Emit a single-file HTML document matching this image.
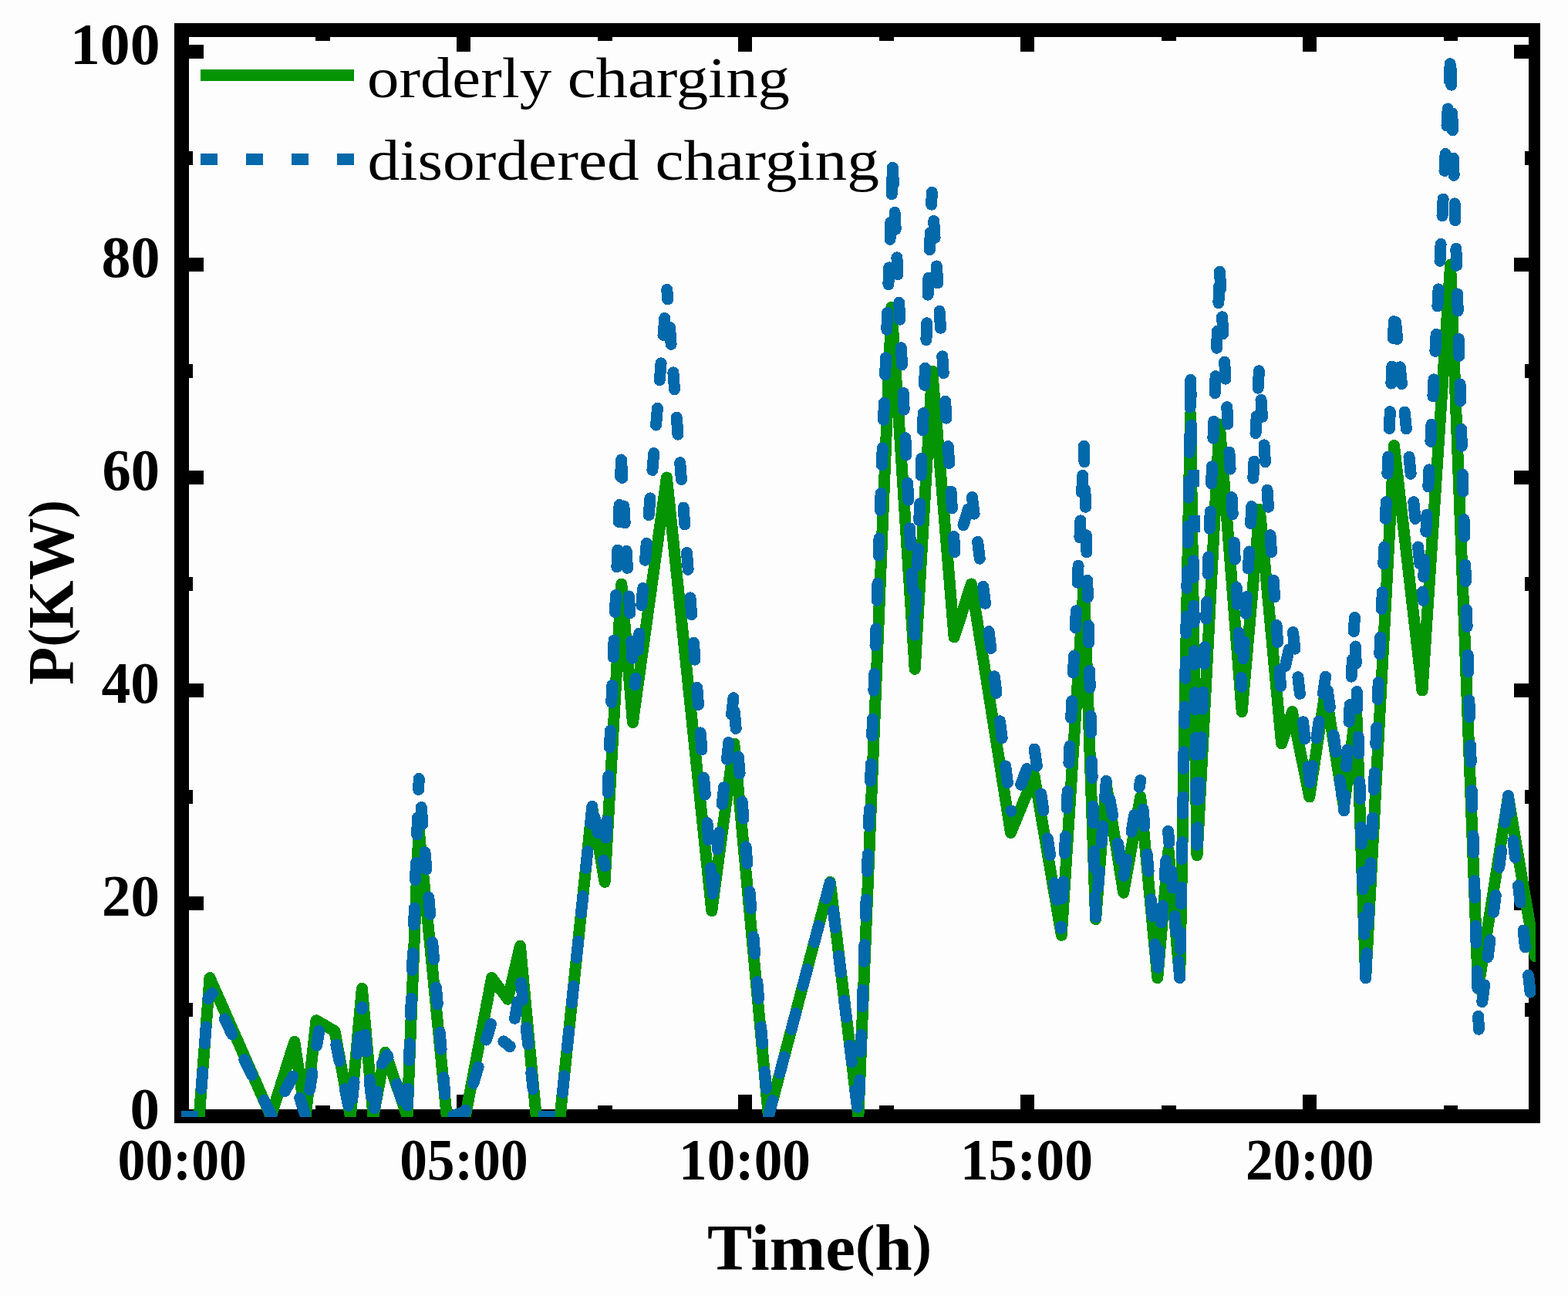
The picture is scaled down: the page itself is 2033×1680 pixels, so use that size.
<!DOCTYPE html>
<html lang="en"><head><meta charset="utf-8"><title>Charging load: orderly vs disordered</title>
<style>
html,body{margin:0;padding:0;background:#fff;}
body{width:2033px;height:1680px;overflow:hidden;}
svg{display:block;}
.tk{font-family:"Liberation Serif","DejaVu Serif",serif;font-weight:bold;font-size:76px;fill:#000;}
.tt{font-family:"Liberation Serif","DejaVu Serif",serif;font-weight:bold;font-size:85px;fill:#000;}
.lg{font-family:"Liberation Serif","DejaVu Serif",serif;font-weight:normal;font-size:74px;fill:#000;}
</style></head><body>
<svg xmlns="http://www.w3.org/2000/svg" width="2033" height="1680" viewBox="0 0 2033 1680">
<rect x="0" y="0" width="2033" height="1680" fill="#fdfdfd"/>
<g fill="#000" shape-rendering="crispEdges">
<rect x="226" y="30" width="1771" height="18"/>
<rect x="226" y="1438" width="1771" height="18"/>
<rect x="226" y="30" width="19" height="1426"/>
<rect x="1982" y="30" width="15" height="1426"/>
<rect x="245" y="1300" width="5" height="18"/>
<rect x="1977" y="1300" width="5" height="18"/>
<rect x="245" y="1162" width="19" height="18"/>
<rect x="1963" y="1162" width="19" height="18"/>
<rect x="245" y="1024" width="5" height="18"/>
<rect x="1977" y="1024" width="5" height="18"/>
<rect x="245" y="886" width="19" height="18"/>
<rect x="1963" y="886" width="19" height="18"/>
<rect x="245" y="748" width="5" height="18"/>
<rect x="1977" y="748" width="5" height="18"/>
<rect x="245" y="610" width="19" height="18"/>
<rect x="1963" y="610" width="19" height="18"/>
<rect x="245" y="472" width="5" height="18"/>
<rect x="1977" y="472" width="5" height="18"/>
<rect x="245" y="334" width="19" height="18"/>
<rect x="1963" y="334" width="19" height="18"/>
<rect x="245" y="196" width="5" height="18"/>
<rect x="1977" y="196" width="5" height="18"/>
<rect x="245" y="58" width="19" height="18"/>
<rect x="1963" y="58" width="19" height="18"/>
<rect x="409" y="48" width="19" height="5"/>
<rect x="409" y="1433" width="19" height="5"/>
<rect x="592" y="48" width="18" height="19"/>
<rect x="592" y="1419" width="18" height="19"/>
<rect x="775" y="48" width="19" height="5"/>
<rect x="775" y="1433" width="19" height="5"/>
<rect x="957" y="48" width="18" height="19"/>
<rect x="957" y="1419" width="18" height="19"/>
<rect x="1140" y="48" width="19" height="5"/>
<rect x="1140" y="1433" width="19" height="5"/>
<rect x="1323" y="48" width="18" height="19"/>
<rect x="1323" y="1419" width="18" height="19"/>
<rect x="1506" y="48" width="19" height="5"/>
<rect x="1506" y="1433" width="19" height="5"/>
<rect x="1689" y="48" width="18" height="19"/>
<rect x="1689" y="1419" width="18" height="19"/>
<rect x="1872" y="48" width="18" height="5"/>
<rect x="1872" y="1433" width="18" height="5"/>
</g>
<defs><clipPath id="pc"><rect x="235" y="39" width="1756" height="1409"/></clipPath></defs>
<g clip-path="url(#pc)" fill="none" stroke-linejoin="round" stroke-linecap="round" shape-rendering="crispEdges">
<polyline points="235.3,1447 258.3,1447 272,1267.6 351.3,1447 381.8,1350.4 396.2,1447 410,1322.8 434,1336.6 454.4,1447 469.4,1281.4 484,1447 499.4,1364.2 528,1447 543,1074.4 579.2,1447 603.4,1447 637.6,1267.6 658.5,1295.2 674.4,1226.2 695.2,1447 726.2,1447 767.7,1046.8 784.1,1143.4 805.8,757 820.4,936.4 864.4,619 922.8,1180.7 951.8,964 996.4,1447 1076.3,1143.4 1112.9,1447 1155.9,398.2 1186.2,867.4 1208.7,481 1237.1,826 1259.4,757 1310.5,1079.5 1341,1005.4 1376.3,1212.4 1405.4,757 1420.6,1191.7 1434.2,1016.4 1456.7,1157.2 1478.7,1033 1500.8,1267.6 1515,1102 1529.7,1267.6 1543.5,536.2 1552,1108.9 1581.2,550 1610.2,922.6 1633.3,660.4 1661.6,964 1675.4,922.6 1697.8,1033 1718.5,895 1742.5,1046.8 1758.5,915.7 1770.7,1267.6 1807.5,577.6 1844,895 1880.6,343 1916.5,1281.4 1955.5,1033 1990.5,1240" stroke="#049404" stroke-width="15"/>
<path d="M261 1411.4 L262.7 1389.5 M265.5 1353 L267.1 1331.1 M269.9 1294.7 L270 1293.4 M270.1 1293.6 L275.4 1287.7 M291.3 1320.9 L300.9 1340.7 M316.9 1373.6 L326.5 1393.4 M342.5 1426.3 L352.1 1446.1 M369.4 1414.7 L379.7 1395.2 M388.8 1423.2 L395.3 1444.2 M401.6 1412.9 L405 1391.2 M410.8 1355.1 L413.7 1336.6 M435.9 1354.3 L440.2 1375.8 M447.3 1411.7 L451.7 1433.2 M456.8 1424.4 L459.1 1402.5 M463 1366.1 L465.3 1344.3 M469.1 1307.9 L469.4 1305.5 M473.1 1341.3 L475.3 1363.1 M479.1 1399.5 L481.4 1421.4 M485.6 1436.7 L489 1415 M495.3 1378.8 L501.5 1368.6 M502.1 1367.7 L503 1370.5 M514.4 1405.2 L521.2 1426.1 M528.5 1433.1 L529.2 1411.1 M530.5 1374.6 L531.3 1352.6 M532.5 1316.1 L533.3 1294.1 M534.6 1257.6 L535.3 1235.6 M536.6 1199 L537.4 1177.1 M538.6 1140.5 L539.4 1118.5 M540.7 1082 L541.4 1060 M542.7 1023.5 L543.2 1009.5 M543.2 1009.5 L543.2 1010.1 M546.2 1046.5 L548 1068.4 M551 1104.9 L552.9 1126.8 M555.8 1163.2 L557.7 1185.1 M560.7 1221.6 L562.5 1243.5 M565.5 1279.9 L567.3 1301.8 M570.3 1338.3 L572.1 1360.2 M575.1 1396.6 L576.9 1418.6 M587.5 1446.3 L603.5 1441 M603 1441 L603.5 1439.2 M613.9 1404.2 L620.1 1383.1 M630.5 1348 L636.5 1327.6 M652.9 1349.9 L661.1 1356.6 M661.1 1356.6 L661.2 1356.2 M667.5 1320.2 L671.3 1298.5 M675.6 1274 L678.1 1295.7 M682.2 1332.1 L684.7 1353.9 M688.8 1390.2 L691.2 1412.1 M729.4 1416.6 L731.6 1394.7 M735.4 1358.4 L737.7 1336.5 M741.4 1300.2 L743.7 1278.3 M747.5 1241.9 L749.8 1220 M753.5 1183.7 L755.8 1161.8 M759.6 1125.4 L761.9 1103.6 M765.6 1067.2 L767.9 1045.4 M770.6 1058.1 L775.2 1079.6 M782.7 1115.3 L784.3 1122.7 M784.3 1122.7 L784.3 1122.5 M785.8 1086 L786.7 1064 M788.1 1027.5 L789 1005.5 M790.5 969 L791.4 947 M792.8 910.5 L793.7 888.5 M795.2 852 L796.1 830 M797.5 793.5 L798.4 771.5 M799.9 735 L800.8 713 M802.2 676.5 L803.1 654.5 M804.6 618 L805.5 596 M805.6 597.5 L806.9 619.5 M808.9 656 L810.2 678 M812.2 714.4 L813.4 736.4 M815.5 772.9 L816.7 794.9 M818.8 831.4 L820 853.3 M823.5 888 L824.2 879.4 M827.1 842.9 L828.9 821 M831.8 784.6 L833.6 762.6 M836.5 726.2 L838.3 704.3 M841.2 667.8 L843 645.9 M845.9 609.5 L847.7 587.6 M850.6 551.1 L852.4 529.2 M855.3 492.8 L857.1 470.8 M860 434.4 L861.8 412.5 M864.7 376 L864.8 375.4 M864.8 375.4 L865.6 386.6 M865.6 386.6 L865.7 388 M868.5 424.5 L870.1 446.4 M872.9 482.9 L874.5 504.8 M877.3 541.2 L879 563.2 M881.7 599.6 L883.4 621.6 M886.1 658 L887.8 679.9 M890.5 716.4 L892.2 738.3 M895 774.8 L896.6 796.7 M899.4 833.2 L901 855.1 M903.8 891.5 L905.5 913.5 M908.2 949.9 L909.9 971.9 M912.6 1008.3 L914.3 1030.2 M917 1066.7 L918.7 1088.6 M921.5 1125.1 L923.1 1147 M924 1158.6 L926.3 1137.2 M930.1 1100.8 L932.4 1079 M936.3 1042.6 L938.6 1020.7 M942.5 984.4 L944.8 962.5 M948.6 926.2 L950.9 904.7 M952.4 922.5 L954.2 944.5 M957.3 980.9 L959.1 1002.8 M962.2 1039.2 L964 1061.2 M967.1 1097.6 L968.9 1119.5 M972 1155.9 L973.8 1177.8 M976.9 1214.3 L978.7 1236.2 M981.8 1272.6 L983.6 1294.5 M986.7 1331 L988.5 1352.9 M991.6 1389.3 L993.4 1411.2 M996.4 1447 L1001.8 1426.5 M1011.1 1391.1 L1016.7 1369.9 M1026.1 1334.5 L1031.7 1313.3 M1041 1277.9 L1046.6 1256.6 M1055.9 1221.3 L1061.5 1200 M1070.9 1164.7 L1076.1 1144.8 M1080.5 1180.8 L1083.1 1202.6 M1087.6 1238.9 L1090.2 1260.8 M1094.6 1297 L1097.3 1318.9 M1101.7 1355.2 L1104.4 1377 M1108.8 1413.3 L1111.5 1435.1 M1113.8 1422 L1114.6 1400 M1115.9 1363.5 L1116.7 1341.5 M1118 1305 L1118.8 1283 M1120.2 1246.5 L1121 1224.5 M1122.3 1188 L1123.1 1166 M1124.4 1129.4 L1125.2 1107.5 M1126.5 1070.9 L1127.3 1048.9 M1128.6 1012.4 L1129.4 990.4 M1130.7 953.9 L1131.5 931.9 M1132.9 895.4 L1133.7 873.4 M1135 836.9 L1135.8 814.9 M1137.1 778.4 L1137.9 756.4 M1139.2 719.9 L1140 697.9 M1141.3 661.4 L1142.1 639.4 M1143.4 602.8 L1144.2 580.9 M1145.6 544.3 L1146.4 522.3 M1147.7 485.8 L1148.5 463.8 M1149.8 427.3 L1150.6 405.3 M1151.9 368.8 L1152.7 346.8 M1154 310.3 L1154.8 288.3 M1156.2 251.8 L1156.9 229.8 M1157.4 217.3 L1158.4 238.8 M1160.1 275.3 L1161.2 297.3 M1162.9 333.8 L1163.9 355.8 M1165.7 392.3 L1166.7 414.2 M1168.4 450.7 L1169.5 472.7 M1171.2 509.2 L1172.2 531.2 M1173.9 567.7 L1175 589.7 M1176.7 626.2 L1177.7 648.2 M1179.5 684.7 L1180.5 706.7 M1182.2 743.2 L1183.3 765.1 M1185 801.7 L1186 823.2 M1187.2 791.7 L1188.1 769.7 M1189.5 733.2 L1190.4 711.2 M1191.8 674.7 L1192.6 652.7 M1194 616.2 L1194.9 594.2 M1196.3 557.7 L1197.2 535.7 M1198.6 499.2 L1199.4 477.2 M1200.9 440.7 L1201.7 418.7 M1203.1 382.2 L1204 360.2 M1205.4 323.7 L1206.3 301.7 M1207.7 265.2 L1208.3 249.3 M1208.3 249.3 L1208.3 250 M1210.7 286.5 L1212.1 308.4 M1214.4 344.9 L1215.8 366.9 M1218.1 403.3 L1219.5 425.3 M1221.8 461.8 L1223.2 483.7 M1225.6 520.2 L1227 542.2 M1229.3 578.6 L1230.7 600.6 M1233 637.1 L1234.4 659 M1236.7 695.5 L1238 715.6 M1249 680.7 L1255.6 659.7 M1260.4 644.4 L1263.1 666.1 M1267.6 702.3 L1270.3 724.2 M1274.8 760.4 L1277.5 782.3 M1282 818.5 L1284.8 840.4 M1289.3 876.7 L1292 898.5 M1296.5 934.8 L1299.2 956.6 M1303.7 992.9 L1306.4 1014.7 M1310.9 1051 L1311 1051.5 M1323.7 1017.2 L1331.3 996.6 M1341.1 971 L1344.4 992.8 M1349.7 1028.9 L1353 1050.7 M1358.3 1086.8 L1361.6 1108.6 M1367 1144.7 L1370.2 1166.5 M1375.6 1202.7 L1375.7 1203.5 M1375.7 1203.5 L1375.8 1201.1 M1377.6 1164.6 L1378.6 1142.7 M1380.3 1106.2 L1381.4 1084.2 M1383.1 1047.7 L1384.2 1025.7 M1385.9 989.2 L1387 967.2 M1388.7 930.7 L1389.8 908.7 M1391.5 872.2 L1392.5 850.2 M1394.3 813.7 L1395.3 791.8 M1397.1 755.3 L1398.1 733.3 M1399.9 696.8 L1400.9 674.8 M1402.6 638.3 L1403.7 616.3 M1405.4 579.8 L1405.5 578.3 M1405.5 578.3 L1406 598.7 M1406.9 635.3 L1407.5 657.3 M1408.4 693.8 L1408.9 715.8 M1409.8 752.3 L1410.3 774.3 M1411.3 810.9 L1411.8 832.9 M1412.7 869.4 L1413.2 891.4 M1414.1 927.9 L1414.7 949.9 M1415.6 986.5 L1416.1 1008.5 M1417 1045 L1417.6 1067 M1418.5 1103.5 L1419 1125.5 M1419.9 1162.1 L1420.5 1184 M1420.6 1189 L1420.7 1187.4 M1423.6 1151 L1425.3 1129.1 M1428.1 1092.6 L1429.8 1070.7 M1432.6 1034.2 L1434.3 1012.3 M1438.8 1035.6 L1442.7 1057.2 M1449.3 1093.2 L1453.3 1114.8 M1457 1135.3 L1460.7 1114.1 M1467 1078.1 L1470.8 1056.4 M1477.1 1020.4 L1478.7 1011.5 M1478.7 1011.5 L1478.8 1012.7 M1482 1049.1 L1483.9 1071 M1487.2 1107.4 L1489.1 1129.3 M1492.3 1165.7 L1494.2 1187.6 M1497.5 1224 L1499.4 1246 M1501.4 1254.3 L1503 1232.4 M1505.7 1195.9 L1507.4 1174 M1510.1 1137.5 L1511.7 1115.6 M1514.5 1079.1 L1514.6 1077.4 M1514.6 1077.4 L1515.8 1092.1 M1514.6 1077.4 L1515.8 1092.6 M1518.7 1129 L1520.4 1150.9 M1523.3 1187.4 L1525.1 1209.3 M1528 1245.7 L1529.7 1267.6 M1529.7 1267.6 L1529.7 1267.2 M1530.4 1230.6 L1530.8 1208.6 M1531.4 1172.1 L1531.8 1150.1 M1532.5 1113.6 L1532.9 1091.6 M1533.6 1055 L1534 1033 M1534.6 996.5 L1535 974.5 M1535.7 937.9 L1536.1 915.9 M1536.8 879.4 L1537.2 857.4 M1537.8 820.9 L1538.2 798.9 M1538.9 762.3 L1539.3 740.3 M1540 703.8 L1540.4 681.8 M1541 645.2 L1541.4 623.2 M1542.1 586.7 L1542.5 564.7 M1543.1 528.2 L1543.5 506.2 M1543.8 492.4 L1544.1 514.4 M1544.6 550.9 L1544.9 572.9 M1547.3 726.7 L1547.6 748.7 M1547.9 785.2 L1548.2 807.2 M1548.5 843.8 L1548.6 850 M1548.6 850 L1548.8 861.3 M1549.3 897.8 L1549.6 919.8 M1550.1 956.4 L1550.4 978.4 M1550.9 1014.9 L1551.2 1036.9 M1551.7 1073.4 L1552 1095.4 M1552.2 1094.7 L1553 1072.7 M1554.5 1036.2 L1555.3 1014.2 M1556.8 977.7 L1557.6 955.7 M1559.1 919.2 L1560 897.2 M1561.4 860.7 L1562.3 838.7 M1563.7 802.2 L1564.6 780.2 M1566 743.7 L1566.9 721.7 M1568.3 685.2 L1569.2 663.2 M1570.6 626.7 L1571.5 604.7 M1572.9 568.2 L1573.8 546.2 M1575.3 509.7 L1576.1 487.7 M1577.6 451.2 L1578.4 429.2 M1579.9 392.7 L1580.7 370.7 M1581.5 352.2 L1582.7 374.2 M1584.6 410.7 L1585.8 432.7 M1587.7 469.2 L1588.9 491.2 M1590.8 527.7 L1592 549.6 M1593.9 586.1 L1595.1 608.1 M1597 644.6 L1598.2 666.6 M1600.1 703.1 L1601.3 725 M1603.2 761.5 L1604.3 783.5 M1606.3 820 L1607.4 842 M1609.4 878.5 L1610 890.4 M1612 853.9 L1613.2 831.9 M1615.2 795.4 L1616.4 773.5 M1618.4 737 L1619.6 715 M1621.6 678.5 L1622.8 656.5 M1624.8 620.1 L1626 598.1 M1628 561.6 L1629.2 539.6 M1631.2 503.1 L1632.4 481.2 M1632.4 480.7 L1632.5 482 M1635 518.4 L1636.5 540.4 M1639 576.9 L1640.5 598.8 M1643 635.3 L1644.5 657.2 M1647 693.7 L1648.5 715.6 M1651.1 752.1 L1652.6 774 M1655.1 810.5 L1656.6 832.5 M1659.1 868.9 L1660.5 889.6 M1666.4 863.4 L1671.3 841.9 M1676.4 819.5 L1678.9 841.2 M1682.9 877.6 L1685.4 899.4 M1689.5 935.7 L1692 957.6 M1696.1 993.9 L1698.4 1014.6 M1698.4 1014.6 L1701.6 992.9 M1706.9 956.8 L1710.1 935 M1715.5 898.9 L1718.7 877.1 M1721.3 894.9 L1724.3 916.7 M1729.2 952.9 L1732.2 974.7 M1737.2 1010.9 L1740.1 1032.7 M1742.6 1050.9 L1743.7 1030.5 M1745.7 994 L1746.9 972 M1749 935.6 L1750.2 913.6 M1752.2 877.1 L1753.4 855.1 M1755.4 818.6 L1756.4 800.5 M1756.4 800.5 L1756.4 801.4 M1757.5 838 L1758.2 860 M1759.3 896.5 L1760 918.5 M1761.1 955 L1761.8 977 M1762.9 1013.5 L1763.6 1035.5 M1764.7 1072.1 L1765.4 1094.1 M1766.5 1130.6 L1767.2 1152.6 M1768.3 1189.1 L1769 1211.1 M1770.1 1247.6 L1770.7 1268 M1771.2 1257.5 L1772.1 1235.6 M1773.7 1199 L1774.6 1177.1 M1776.2 1140.5 L1777.1 1118.6 M1778.7 1082.1 L1779.7 1060.1 M1781.2 1023.6 L1782.2 1001.6 M1783.8 965.1 L1784.7 943.1 M1786.3 906.6 L1787.2 884.6 M1788.8 848.1 L1789.7 826.1 M1791.3 789.6 L1792.3 767.6 M1793.8 731.1 L1794.8 709.1 M1796.4 672.6 L1797.3 650.6 M1798.9 614.1 L1799.8 592.1 M1801.4 555.6 L1802.3 533.6 M1803.9 497.1 L1804.9 475.1 M1806.4 438.6 L1807.4 416.6 M1809.5 417.6 L1811.7 439.5 M1815.3 475.8 L1817.5 497.7 M1821.2 534.1 L1823.4 556 M1827 592.4 L1829.2 614.3 M1832.8 650.6 L1835 672.5 M1838.6 708.9 L1840.8 730.8 M1844.5 767.1 L1845.6 778.6 M1845.8 747.7 L1846.9 725.7 M1848.8 689.2 L1850 667.3 M1851.8 630.8 L1853 608.8 M1854.9 572.3 L1856 550.3 M1857.9 513.8 L1859 491.9 M1860.9 455.4 L1862.1 433.4 M1863.9 396.9 L1865.1 374.9 M1867 338.4 L1868.1 316.4 M1870 279.9 L1871.1 258 M1873 221.5 L1874.1 199.5 M1876 163 L1877.2 141 M1879.1 104.5 L1880.2 82.6 M1881.1 88.2 L1881.7 110.2 M1882.8 146.8 L1883.4 168.8 M1884.5 205.3 L1885.1 227.3 M1886.2 263.8 L1886.8 285.8 M1887.9 322.3 L1888.5 344.3 M1889.6 380.9 L1890.2 402.9 M1891.3 439.4 L1891.9 461.4 M1893 497.9 L1893.6 519.9 M1894.7 556.4 L1895.3 578.4 M1896.4 615 L1897 637 M1898.1 673.5 L1898.7 695.5 M1899.8 732 L1900.4 754 M1901.5 790.5 L1902.1 812.5 M1903.2 849.1 L1903.8 871.1 M1904.9 907.6 L1905.5 929.6 M1906.6 966.1 L1907.2 988.1 M1908.3 1024.6 L1908.9 1046.6 M1910 1083.2 L1910.6 1105.2 M1911.7 1141.7 L1912.3 1163.7 M1913.4 1200.2 L1914 1222.2 M1915.1 1258.7 L1915.7 1280.7 M1916.8 1317.3 L1917.3 1334.3 M1921.8 1298.6 L1924.6 1276.7 M1929.1 1240.5 L1931.9 1218.6 M1936.5 1182.4 L1939.2 1160.6 M1943.8 1124.3 L1946.6 1102.5 M1951.1 1066.2 L1953.9 1044.4 M1955.5 1031.6 L1957.9 1053.4 M1962 1089.7 L1964.5 1111.5 M1968.6 1147.9 L1971 1169.7 M1975.1 1206.1 L1977.5 1227.9 M1981.6 1264.2 L1984.1 1286.1" stroke="#0369ab" stroke-width="15"/>
<path d="M235.3 1447 L257.3 1447 M698 1447 L720 1447 M1547.5 609.1 L1547.5 630.7 M1548 667.9 L1548 689.5" stroke="#0369ab" stroke-width="15" stroke-linecap="butt"/>
</g>
<g shape-rendering="crispEdges">
<rect x="260" y="90" width="199" height="15" fill="#049404"/>
<rect x="260" y="199" width="22" height="15" fill="#0369ab"/>
<rect x="319" y="199" width="22" height="15" fill="#0369ab"/>
<rect x="378" y="199" width="22" height="15" fill="#0369ab"/>
<rect x="437" y="199" width="22" height="15" fill="#0369ab"/>
</g>
<text class="lg" x="476" y="126.4" textLength="548" lengthAdjust="spacingAndGlyphs">orderly charging</text>
<text class="lg" x="476.5" y="233.2" textLength="663.5" lengthAdjust="spacingAndGlyphs">disordered charging</text>
<text class="tk" x="168.5" y="1462.7" textLength="38.5" lengthAdjust="spacingAndGlyphs">0</text>
<text class="tk" x="132" y="1186.7" textLength="75" lengthAdjust="spacingAndGlyphs">20</text>
<text class="tk" x="131.5" y="910.7" textLength="75.5" lengthAdjust="spacingAndGlyphs">40</text>
<text class="tk" x="132.5" y="634.7" textLength="74.5" lengthAdjust="spacingAndGlyphs">60</text>
<text class="tk" x="131.5" y="358.7" textLength="76" lengthAdjust="spacingAndGlyphs">80</text>
<text class="tk" x="91" y="82.7" textLength="116.5" lengthAdjust="spacingAndGlyphs">100</text>
<text class="tk" x="152.5" y="1528.8" textLength="167.5" lengthAdjust="spacingAndGlyphs">00:00</text>
<text class="tk" x="518.2" y="1528.8" textLength="166.5" lengthAdjust="spacingAndGlyphs">05:00</text>
<text class="tk" x="880" y="1528.8" textLength="171" lengthAdjust="spacingAndGlyphs">10:00</text>
<text class="tk" x="1245" y="1528.8" textLength="172" lengthAdjust="spacingAndGlyphs">15:00</text>
<text class="tk" x="1615" y="1528.8" textLength="166.5" lengthAdjust="spacingAndGlyphs">20:00</text>
<text class="tt" x="917" y="1646" textLength="291" lengthAdjust="spacingAndGlyphs">Time<tspan font-size="74px" dy="-7">(</tspan><tspan dy="7">h</tspan><tspan font-size="74px" dy="-7">)</tspan></text>
<text class="tt" transform="translate(95.2 888) rotate(-90)" x="0" y="0" textLength="240" lengthAdjust="spacingAndGlyphs">P<tspan font-size="74px" dy="-7">(</tspan><tspan dy="7">KW</tspan><tspan font-size="74px" dy="-7">)</tspan></text>
</svg>
</body></html>
